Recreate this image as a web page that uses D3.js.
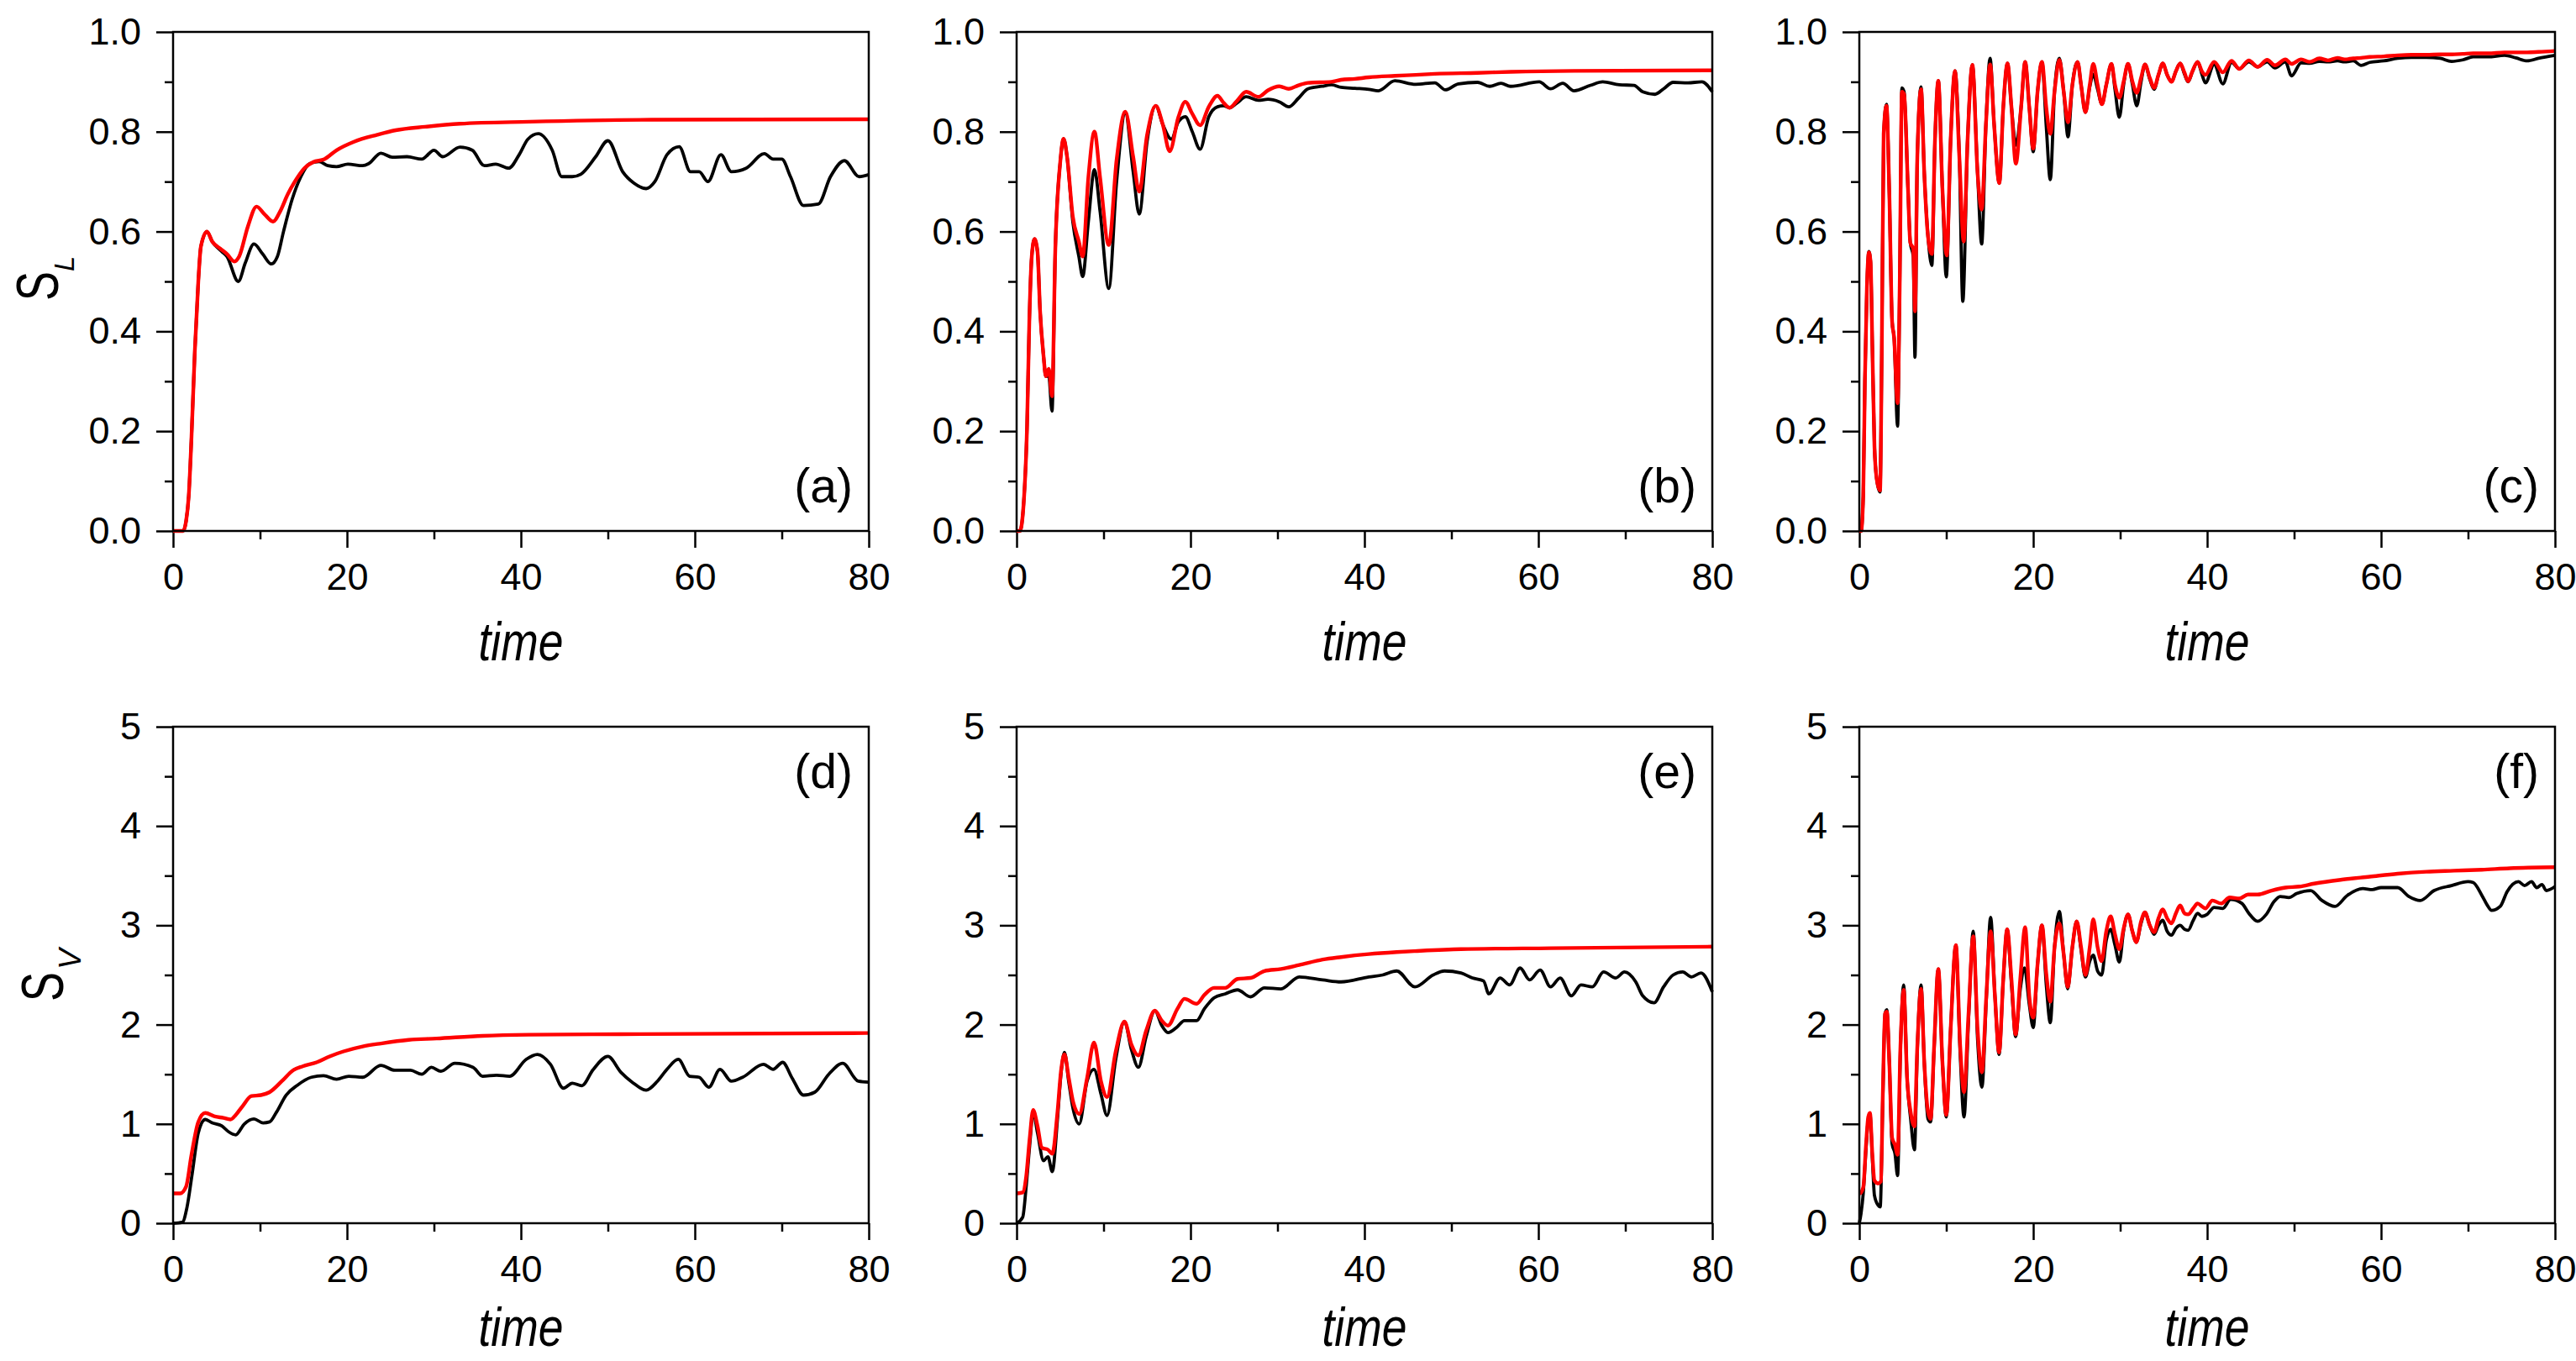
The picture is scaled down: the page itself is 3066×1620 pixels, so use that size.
<!DOCTYPE html>
<html>
<head>
<meta charset="utf-8">
<script src="https://cdn.jsdelivr.net/npm/d3@7"></script>
<style>
  html, body { margin: 0; padding: 0; background: #fff; }
  svg { display: block; }
  text { font-family: "Liberation Sans", Arial, sans-serif; fill: #000; }
  .tick text { font-size: 45px; }
  .tick line { stroke: #000; stroke-width: 2.5; }
</style>
</head>
<body>
<svg id="chart" width="3066" height="1620"></svg>
<script>
// values: [time, value]
var redA = [[0,0],[1.15,0],[1.5,0.02],[1.8,0.07],[2.1,0.18],[2.5,0.36],[2.9,0.5],[3.2,0.57],[3.9,0.60],[4.5,0.58],[5.4,0.566],[6.2,0.555],[7.05,0.54],[7.6,0.55],[8.6,0.61],[9.6,0.65],[10.5,0.635],[11.5,0.62],[12.3,0.64],[13.2,0.675],[14.0,0.70],[15.1,0.727],[16.1,0.739],[17.4,0.745],[18.8,0.763],[20.8,0.78],[23.5,0.794],[25.6,0.803],[29,0.81],[33,0.816],[41,0.82],[55,0.824],[80,0.825]];
var blackA = [[0,0],[1.15,0],[1.5,0.02],[1.8,0.07],[2.1,0.18],[2.5,0.36],[2.9,0.5],[3.2,0.57],[3.9,0.60],[4.5,0.58],[5.6,0.56],[6.2,0.55],[7.5,0.50],[8.3,0.537],[9.3,0.575],[10.3,0.555],[11.3,0.535],[12,0.55],[12.7,0.60],[13.7,0.665],[14.7,0.71],[15.7,0.736],[16.8,0.74],[17.8,0.732],[18.8,0.73],[20.1,0.735],[21.8,0.732],[22.5,0.736],[23.9,0.757],[25.2,0.749],[26.9,0.75],[28.6,0.745],[30,0.763],[31,0.75],[33,0.769],[34.4,0.763],[35.8,0.732],[37.1,0.735],[38.6,0.727],[39.8,0.754],[40.8,0.785],[42,0.796],[43.6,0.763],[44.7,0.71],[45.9,0.71],[46.9,0.715],[48.6,0.75],[50,0.782],[51.7,0.72],[53,0.697],[54.4,0.686],[55.4,0.70],[56.8,0.754],[58.2,0.77],[59.5,0.72],[60.5,0.72],[61.5,0.70],[63,0.754],[64.2,0.72],[65.9,0.727],[68,0.756],[69,0.745],[70,0.745],[71,0.71],[72.5,0.652],[74.2,0.655],[75.6,0.71],[77.2,0.742],[78.9,0.71],[80,0.714]];

var redB = [[0,0],[0.38,0],[0.8,0.053],[1.2,0.21],[1.46,0.42],[1.74,0.55],[2.06,0.585],[2.4,0.56],[2.7,0.44],[3.1,0.35],[3.36,0.31],[3.7,0.325],[4.07,0.27],[4.45,0.565],[5.0,0.736],[5.4,0.786],[5.8,0.75],[6.46,0.63],[7.16,0.58],[7.6,0.55],[8.25,0.708],[8.95,0.80],[9.6,0.708],[10.6,0.573],[11.5,0.744],[12.5,0.84],[13.4,0.75],[14.1,0.68],[15.0,0.793],[16.0,0.852],[16.8,0.815],[17.6,0.761],[18.6,0.829],[19.4,0.86],[20.2,0.836],[21.1,0.813],[22.1,0.85],[23.1,0.872],[23.8,0.858],[24.5,0.848],[25.3,0.861],[26.4,0.88],[27.8,0.87],[28.9,0.883],[30.2,0.891],[31.3,0.886],[32.4,0.893],[33.5,0.898],[36.2,0.900],[37.3,0.904],[38.9,0.906],[40.5,0.909],[43.5,0.912],[45.9,0.914],[48.1,0.916],[53,0.918],[56.8,0.920],[64.1,0.922],[80,0.923]];
var blackB = [[0,0],[0.38,0],[0.8,0.053],[1.2,0.21],[1.46,0.42],[1.74,0.55],[2.06,0.585],[2.4,0.56],[2.7,0.44],[3.1,0.35],[3.36,0.31],[3.7,0.31],[4.07,0.24],[4.45,0.565],[5.0,0.736],[5.4,0.786],[5.8,0.75],[6.46,0.62],[7.16,0.55],[7.6,0.51],[8.25,0.62],[8.95,0.724],[9.6,0.64],[10.6,0.486],[11.5,0.70],[12.5,0.837],[13.4,0.72],[14.1,0.635],[15.0,0.78],[16.0,0.852],[16.8,0.815],[17.8,0.785],[18.6,0.82],[19.4,0.83],[20.2,0.80],[21.1,0.765],[22.1,0.83],[23.1,0.85],[23.8,0.852],[24.5,0.848],[25.3,0.857],[26.4,0.87],[27.8,0.863],[28.9,0.865],[30.2,0.86],[31.3,0.85],[32.4,0.867],[33.5,0.886],[35.1,0.891],[36.2,0.894],[37.3,0.889],[38.9,0.887],[40.5,0.885],[41.6,0.882],[43.5,0.902],[45.9,0.895],[48.1,0.898],[49.3,0.884],[50.8,0.896],[53,0.899],[54.4,0.891],[55.7,0.897],[56.8,0.891],[60.1,0.9],[61.4,0.886],[62.8,0.897],[64.1,0.882],[66,0.893],[67.4,0.9],[69.3,0.894],[71,0.893],[72,0.88],[73.4,0.875],[74.4,0.886],[75.5,0.899],[77.2,0.898],[78.8,0.9],[80,0.88]];

var redC = [[0,0],[0.2,0],[0.45,0.07],[0.64,0.30],[0.87,0.486],[1.1,0.558],[1.29,0.54],[1.5,0.368],[1.74,0.17],[2.0,0.104],[2.38,0.081],[2.58,0.354],[2.8,0.796],[3.12,0.852],[3.45,0.677],[3.77,0.42],[4.0,0.387],[4.4,0.256],[4.64,0.486],[4.9,0.88],[5.15,0.875],[5.6,0.684],[5.86,0.578],[6.2,0.565],[6.4,0.44],[6.67,0.75],[7.1,0.885],[7.47,0.717],[7.9,0.59],[8.34,0.555],[8.7,0.783],[9.08,0.902],[9.56,0.684],[10.05,0.552],[10.5,0.783],[11.0,0.922],[11.5,0.75],[12.0,0.58],[12.45,0.783],[13.0,0.934],[13.6,0.717],[14.07,0.644],[14.56,0.815],[15.04,0.935],[15.5,0.815],[16.1,0.697],[16.55,0.848],[17.04,0.937],[17.5,0.848],[18.0,0.736],[18.6,0.848],[19.07,0.94],[19.55,0.848],[20.0,0.766],[20.5,0.881],[21.0,0.94],[21.5,0.848],[21.96,0.796],[22.45,0.881],[23.0,0.944],[23.5,0.881],[24.0,0.819],[24.5,0.894],[25.1,0.94],[25.5,0.894],[26.0,0.839],[26.5,0.894],[26.9,0.936],[27.4,0.894],[27.9,0.855],[28.4,0.894],[29.0,0.936],[29.4,0.894],[29.9,0.868],[30.4,0.901],[30.9,0.936],[31.4,0.901],[31.9,0.878],[32.4,0.908],[32.85,0.935],[33.4,0.908],[33.9,0.888],[34.4,0.914],[34.9,0.937],[35.4,0.914],[35.9,0.9],[36.4,0.921],[36.9,0.937],[37.4,0.918],[37.8,0.901],[38.3,0.921],[38.9,0.94],[39.4,0.921],[39.8,0.914],[40.8,0.94],[41.8,0.919],[42.8,0.942],[43.7,0.926],[44.8,0.943],[45.8,0.93],[46.9,0.944],[47.8,0.933],[49,0.945],[49.7,0.936],[50.8,0.945],[51.8,0.94],[52.9,0.947],[53.9,0.943],[55.0,0.948],[55.8,0.945],[56.8,0.947],[57.7,0.948],[58.7,0.95],[60.3,0.951],[61.9,0.953],[63.5,0.954],[65.2,0.954],[66.8,0.955],[68.1,0.955],[69.4,0.956],[70.6,0.957],[72.3,0.957],[74.2,0.959],[75.5,0.959],[76.8,0.959],[78.1,0.96],[80,0.962]];
var blackC = [[0,0],[0.2,0],[0.45,0.07],[0.64,0.30],[0.87,0.486],[1.1,0.56],[1.29,0.54],[1.5,0.368],[1.74,0.17],[2.0,0.104],[2.38,0.078],[2.58,0.354],[2.8,0.796],[3.12,0.855],[3.45,0.677],[3.77,0.42],[4.0,0.387],[4.4,0.21],[4.64,0.486],[4.9,0.888],[5.15,0.88],[5.6,0.684],[5.86,0.578],[6.2,0.55],[6.4,0.348],[6.67,0.75],[7.1,0.89],[7.47,0.717],[7.9,0.59],[8.34,0.532],[8.7,0.783],[9.08,0.902],[9.56,0.684],[10.0,0.509],[10.5,0.783],[11.0,0.922],[11.5,0.75],[11.9,0.46],[12.45,0.783],[13.0,0.934],[13.6,0.717],[14.07,0.575],[14.56,0.815],[15.04,0.947],[15.5,0.815],[16.1,0.697],[16.55,0.848],[17.04,0.937],[17.5,0.848],[18.0,0.773],[18.6,0.848],[19.07,0.94],[19.55,0.848],[20.0,0.76],[20.5,0.881],[21.0,0.94],[21.5,0.81],[21.96,0.704],[22.45,0.881],[23.0,0.947],[23.5,0.881],[24.0,0.79],[24.5,0.894],[25.1,0.94],[25.5,0.894],[26.0,0.839],[26.5,0.89],[26.9,0.915],[27.4,0.885],[27.9,0.855],[28.4,0.894],[29.0,0.936],[29.4,0.885],[29.9,0.829],[30.4,0.895],[30.9,0.936],[31.4,0.895],[31.9,0.852],[32.4,0.9],[32.85,0.935],[33.4,0.905],[33.9,0.885],[34.4,0.914],[34.9,0.937],[35.4,0.914],[35.9,0.9],[36.4,0.921],[36.9,0.937],[37.4,0.915],[37.8,0.9],[38.3,0.92],[38.9,0.94],[39.4,0.915],[39.8,0.898],[40.8,0.935],[41.8,0.896],[42.8,0.939],[43.7,0.926],[44.8,0.94],[45.8,0.93],[46.9,0.94],[47.8,0.928],[49,0.94],[49.7,0.912],[50.8,0.938],[51.8,0.937],[52.9,0.941],[53.9,0.94],[55.0,0.942],[55.8,0.94],[56.8,0.942],[57.7,0.933],[58.7,0.939],[60.3,0.942],[61.9,0.947],[63.5,0.949],[65.2,0.949],[66.8,0.947],[68.1,0.941],[69.4,0.944],[70.6,0.95],[72.3,0.95],[74.2,0.953],[75.5,0.948],[76.8,0.942],[78.1,0.947],[80,0.953]];

var redD = [[0,0.30],[0.8,0.30],[1.5,0.37],[2.1,0.68],[2.9,1.02],[3.7,1.11],[4.8,1.075],[5.8,1.06],[6.6,1.045],[7.2,1.09],[8.0,1.18],[9.0,1.28],[10.1,1.29],[11.1,1.32],[12.5,1.43],[13.8,1.54],[14.9,1.58],[16.5,1.62],[18.0,1.68],[19.6,1.73],[21.8,1.78],[23.9,1.81],[27.1,1.846],[30.3,1.86],[35.6,1.887],[40.9,1.898],[51.5,1.904],[80,1.915]];
var blackD = [[0,0],[1.06,0.01],[1.6,0.16],[2.2,0.5],[2.9,0.91],[3.7,1.045],[4.5,1.01],[5.6,0.98],[6.4,0.92],[7.2,0.89],[8.2,1.0],[9.3,1.05],[10.35,1.01],[11.1,1.02],[11.9,1.12],[13,1.29],[14.3,1.39],[15.9,1.47],[17.3,1.485],[18.8,1.45],[20.2,1.48],[21.8,1.47],[23.9,1.59],[25.5,1.54],[27.3,1.54],[28.6,1.50],[29.7,1.57],[30.8,1.53],[32.4,1.61],[34.5,1.57],[35.6,1.48],[37.2,1.49],[38.7,1.48],[40.6,1.65],[41.9,1.70],[43.4,1.60],[44.9,1.36],[45.9,1.41],[47,1.385],[48.3,1.546],[50,1.68],[51.5,1.52],[52.8,1.42],[54.4,1.34],[55.7,1.43],[56.8,1.55],[58.1,1.65],[59.4,1.48],[60.5,1.47],[61.6,1.37],[62.9,1.55],[64.2,1.43],[65.5,1.47],[67.9,1.60],[69,1.55],[70.1,1.62],[71.2,1.46],[72.5,1.29],[73.8,1.32],[75.4,1.50],[77,1.61],[78.8,1.43],[80,1.42]];

var redE = [[0,0.30],[0.7,0.31],[1.1,0.47],[1.5,0.85],[1.9,1.14],[2.4,0.98],[2.9,0.76],[3.6,0.74],[4.1,0.70],[4.7,1.12],[5.1,1.53],[5.5,1.70],[6.0,1.46],[6.5,1.22],[7.2,1.10],[8.1,1.46],[8.9,1.82],[9.7,1.43],[10.4,1.27],[11.4,1.73],[12.4,2.03],[13.2,1.80],[14.0,1.69],[14.9,1.94],[15.9,2.14],[16.7,2.04],[17.4,1.99],[18.5,2.16],[19.3,2.26],[20.7,2.21],[21.6,2.30],[22.7,2.37],[24.0,2.37],[25.4,2.46],[26.9,2.47],[28.5,2.54],[30.4,2.56],[32.5,2.60],[35.2,2.655],[37.3,2.68],[40.5,2.71],[43.7,2.73],[45.8,2.74],[51.1,2.76],[61.4,2.77],[80,2.785]];
var blackE = [[0,0],[0.7,0.06],[1.1,0.37],[1.5,0.78],[1.9,1.12],[2.4,0.91],[3.1,0.63],[3.6,0.67],[4.1,0.52],[4.7,1.05],[5.1,1.5],[5.5,1.72],[6.0,1.42],[6.5,1.15],[7.2,1.0],[8.1,1.43],[8.9,1.55],[9.7,1.30],[10.4,1.085],[11.4,1.65],[12.4,2.03],[13.2,1.75],[14.0,1.57],[14.9,1.88],[15.9,2.14],[16.7,1.99],[17.4,1.92],[18.5,1.98],[19.3,2.04],[20.7,2.04],[21.6,2.16],[22.7,2.27],[24.0,2.31],[25.4,2.35],[26.9,2.28],[28.5,2.37],[30.4,2.36],[32.5,2.48],[35.2,2.45],[37.3,2.43],[40.5,2.48],[42.1,2.5],[43.7,2.54],[45.8,2.38],[47.9,2.5],[49.2,2.54],[51.1,2.52],[52.4,2.47],[53.7,2.44],[54.3,2.31],[55.6,2.47],[56.7,2.40],[57.9,2.57],[59,2.45],[60.2,2.55],[61.4,2.38],[62.5,2.47],[63.8,2.29],[64.9,2.40],[66.2,2.38],[67.5,2.53],[68.9,2.47],[69.9,2.53],[71.2,2.43],[72,2.29],[73.3,2.22],[74.4,2.38],[75.5,2.50],[76.6,2.53],[77.6,2.48],[78.7,2.52],[80,2.33]];

var redF = [[0,0.30],[0.06,0.30],[0.45,0.36],[0.77,0.79],[1.03,1.07],[1.22,1.11],[1.5,0.69],[1.74,0.43],[2.16,0.40],[2.48,0.42],[2.7,1.29],[2.96,2.11],[3.16,2.13],[3.45,1.62],[3.77,0.86],[4.1,0.79],[4.4,0.69],[4.73,1.78],[5.1,2.35],[5.5,1.45],[5.9,1.12],[6.34,0.975],[6.67,1.78],[7.1,2.36],[7.47,1.62],[7.9,1.12],[8.2,1.05],[8.6,1.78],[9.08,2.56],[9.56,1.62],[10.0,1.09],[10.5,1.95],[11.1,2.80],[11.6,1.78],[12.04,1.32],[12.56,2.11],[13.1,2.89],[13.6,1.95],[14.1,1.52],[14.6,2.28],[15.1,2.94],[15.6,2.28],[16.07,1.72],[16.55,2.45],[17.0,2.96],[17.5,2.45],[17.97,1.90],[18.5,2.45],[19.07,2.98],[19.55,2.28],[20.0,2.07],[20.5,2.61],[21.0,3.0],[21.5,2.51],[21.96,2.23],[22.45,2.78],[23.0,3.02],[23.5,2.71],[23.96,2.38],[24.5,2.78],[25.0,3.04],[25.5,2.78],[26.0,2.50],[26.5,2.78],[26.9,3.06],[27.4,2.78],[27.86,2.64],[28.4,2.94],[28.9,3.09],[29.4,2.91],[29.9,2.76],[30.4,2.97],[30.9,3.11],[31.4,2.94],[31.85,2.83],[32.4,3.04],[32.85,3.13],[33.4,3.0],[33.9,2.93],[34.4,3.07],[34.9,3.16],[35.4,3.07],[35.9,3.02],[36.4,3.12],[36.9,3.2],[37.4,3.12],[37.8,3.11],[38.4,3.17],[38.9,3.22],[39.4,3.19],[39.8,3.17],[40.6,3.25],[41.6,3.22],[42.6,3.28],[43.7,3.27],[44.7,3.31],[45.8,3.31],[47.4,3.35],[49,3.38],[50.6,3.39],[52.3,3.42],[55.5,3.46],[58.7,3.49],[61.9,3.52],[65.2,3.54],[68.4,3.55],[71.6,3.56],[74.8,3.575],[80,3.585]];
var blackF = [[0,0],[0.2,0.1],[0.45,0.3],[0.77,0.75],[1.03,1.05],[1.22,1.10],[1.5,0.65],[1.74,0.28],[2.16,0.18],[2.4,0.165],[2.7,1.25],[2.96,2.11],[3.16,2.15],[3.45,1.62],[3.77,0.80],[4.1,0.70],[4.4,0.48],[4.73,1.75],[5.1,2.40],[5.5,1.45],[5.9,1.05],[6.34,0.74],[6.67,1.75],[7.1,2.40],[7.47,1.62],[7.9,1.05],[8.2,1.02],[8.6,1.75],[9.08,2.56],[9.56,1.62],[10.0,1.07],[10.5,1.95],[11.1,2.80],[11.6,1.70],[12.04,1.07],[12.56,2.05],[13.1,2.94],[13.6,1.85],[14.1,1.37],[14.6,2.25],[15.1,3.08],[15.6,2.28],[16.07,1.70],[16.55,2.45],[17.0,2.96],[17.5,2.40],[17.97,1.88],[18.5,2.35],[19.0,2.57],[19.55,2.2],[20.0,1.97],[20.5,2.61],[21.0,3.0],[21.5,2.4],[21.96,2.02],[22.45,2.78],[23.0,3.14],[23.5,2.71],[23.96,2.36],[24.5,2.78],[25.0,3.04],[25.5,2.75],[26.0,2.48],[26.5,2.64],[26.9,2.70],[27.4,2.54],[27.86,2.50],[28.4,2.85],[28.9,2.96],[29.4,2.8],[29.9,2.63],[30.4,2.95],[30.9,3.11],[31.4,2.94],[31.85,2.83],[32.4,3.02],[32.85,3.13],[33.4,3.0],[33.9,2.91],[34.4,3.0],[34.9,3.05],[35.4,2.94],[35.9,2.90],[36.4,2.97],[36.9,3.0],[37.4,2.96],[37.8,2.95],[38.4,3.05],[38.9,3.12],[39.4,3.09],[40,3.11],[40.8,3.18],[41.8,3.17],[42.7,3.26],[44.0,3.22],[44.8,3.12],[45.8,3.04],[46.8,3.11],[47.7,3.24],[48.4,3.29],[49.4,3.28],[50.3,3.32],[51.9,3.35],[53.2,3.25],[54.7,3.19],[56.1,3.30],[57.9,3.37],[59,3.36],[60,3.38],[61.9,3.38],[63.2,3.29],[64.5,3.25],[66.1,3.35],[68.1,3.40],[70,3.44],[70.6,3.43],[71.6,3.30],[72.3,3.19],[72.7,3.15],[73.7,3.19],[74.5,3.34],[75.8,3.44],[76.5,3.40],[77.3,3.44],[77.9,3.38],[78.5,3.41],[79,3.35],[80,3.39]];

var panelLetters = ["(a)", "(b)", "(c)", "(d)", "(e)", "(f)"];
var xTicksMajor = [0, 20, 40, 60, 80];
var xTicksMinor = [10, 30, 50, 70];
var topTicksMajor = [0, 0.2, 0.4, 0.6, 0.8, 1.0];
var topTicksMinor = [0.1, 0.3, 0.5, 0.7, 0.9];
var bottomTicksMajor = [0, 1, 2, 3, 4, 5];
var bottomTicksMinor = [0.5, 1.5, 2.5, 3.5, 4.5];

var svg = d3.select("#chart");

var colLeft = [206, 1210, 2213];
var plotW = 828;
var rows = [
  { top: 38, h: 594, ymax: 1, major: topTicksMajor, minor: topTicksMinor, fmt: d3.format(".1f"), letterTop: false, titleGap: 154 },
  { top: 865, h: 591, ymax: 5, major: bottomTicksMajor, minor: bottomTicksMinor, fmt: d3.format("d"), letterTop: true, titleGap: 146 }
];
var series = [[blackA, redA], [blackB, redB], [blackC, redC], [blackD, redD], [blackE, redE], [blackF, redF]];

var drawPanel = function(i) {
  var r = rows[Math.floor(i / 3)];
  var left = colLeft[i % 3];
  var g = svg.append("g").attr("transform", "translate(" + left + "," + r.top + ")");

  var x = d3.scaleLinear().domain([0, 80]).range([0, plotW]);
  var y = d3.scaleLinear().domain([0, r.ymax]).range([r.h, 0]);

  // minor ticks first, then the labelled ones
  g.append("g").attr("transform", "translate(0," + r.h + ")")
    .call(d3.axisBottom(x).tickValues(xTicksMinor).tickSize(10).tickSizeOuter(0).tickFormat(""));
  g.append("g").attr("transform", "translate(0," + r.h + ")")
    .call(d3.axisBottom(x).tickValues(xTicksMajor).tickSize(20).tickSizeOuter(0).tickPadding(18).tickFormat(d3.format("d")));
  g.append("g")
    .call(d3.axisLeft(y).tickValues(r.minor).tickSize(10).tickSizeOuter(0).tickFormat(""));
  g.append("g")
    .call(d3.axisLeft(y).tickValues(r.major).tickSize(20).tickSizeOuter(0).tickPadding(18).tickFormat(r.fmt));
  g.selectAll(".domain").remove();

  var line = d3.line()
    .x(function(d) { return x(d[0]); })
    .y(function(d) { return y(d[1]); })
    .curve(d3.curveMonotoneX);

  g.append("path").datum(series[i][0])
    .attr("d", line).attr("fill", "none")
    .attr("stroke", "#000").attr("stroke-width", 3.8).attr("stroke-linejoin", "round");
  g.append("path").datum(series[i][1])
    .attr("d", line).attr("fill", "none")
    .attr("stroke", "#ff0000").attr("stroke-width", 4.4).attr("stroke-linejoin", "round");

  g.append("rect")
    .attr("x", 0).attr("y", 0).attr("width", plotW).attr("height", r.h)
    .attr("fill", "none").attr("stroke", "#000").attr("stroke-width", 2.5);

  g.append("text")
    .attr("x", plotW - 19)
    .attr("y", r.letterTop ? 73 : r.h - 34)
    .attr("text-anchor", "end")
    .style("font-size", "57px")
    .text(panelLetters[i]);

  g.append("text")
    .attr("x", plotW / 2)
    .attr("y", r.h + r.titleGap)
    .attr("text-anchor", "middle")
    .attr("textLength", 101)
    .attr("lengthAdjust", "spacingAndGlyphs")
    .style("font-size", "64px")
    .style("font-style", "italic")
    .text("time");
};

for (var i = 0; i < 6; i++) drawPanel(i);

// y axis titles, S with italic subscript
var yTitle = function(sx, sy, sub, subX, subY, subSize) {
  svg.append("text")
    .attr("transform", "translate(" + sx + "," + sy + ") rotate(-90)")
    .attr("textLength", 35)
    .attr("lengthAdjust", "spacingAndGlyphs")
    .style("font-size", "71px")
    .text("S");
  svg.append("text")
    .attr("transform", "translate(" + subX + "," + subY + ") rotate(-90)")
    .style("font-size", subSize + "px")
    .style("font-style", "italic")
    .text(sub);
};
yTitle(69, 358, "L", 88, 323, 33);
yTitle(75, 1192, "V", 96, 1154, 37);
</script>
</body>
</html>
